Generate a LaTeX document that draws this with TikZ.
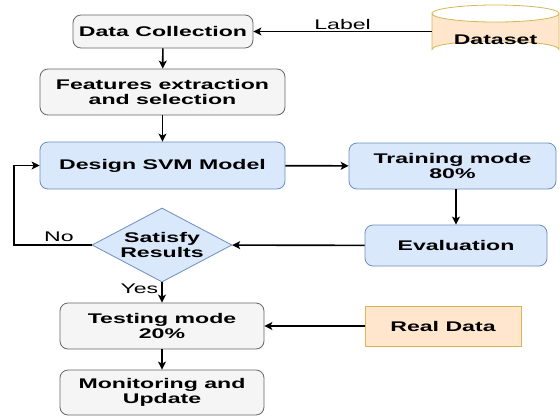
\documentclass[tikz,border=0pt]{standalone}
\usepackage{fontspec}
\setmainfont{Liberation Sans}[FakeStretch=1.65]
\usetikzlibrary{shapes.geometric,arrows.meta}
\definecolor{grayfill}{HTML}{F5F5F5}
\definecolor{grayline}{HTML}{666666}
\definecolor{bluefill}{HTML}{DAE8FC}
\definecolor{blueline}{HTML}{6C8EBF}
\definecolor{orfill}{HTML}{FFE6CC}
\definecolor{orline}{HTML}{D6B656}
\begin{document}
\begin{tikzpicture}[x=1pt,y=-1pt,
  every node/.style={font=\fontsize{14}{15.5}\selectfont\bfseries, align=center, inner sep=0pt},
  graybox/.style={draw=grayline, fill=grayfill, rounded corners=8pt, line width=0.8pt},
  bluebox/.style={draw=blueline, fill=bluefill, rounded corners=8pt, line width=0.8pt},
  orbox/.style={draw=orline, fill=orfill, line width=0.8pt},
  conn/.style={line width=1.6pt, -{Stealth[length=8pt,width=8pt,inset=2pt]}},
  lbl/.style={font=\fontsize{14}{15}\selectfont}
]
\useasboundingbox (0,0) rectangle (560,416);

\node[graybox, minimum width=180pt, minimum height=33pt] (dc) at (163,31.5) {Data Collection};
\node[graybox, minimum width=245pt, minimum height=46pt] (fe) at (162.5,92) {Features extraction\\and selection};
\node[bluebox, minimum width=245pt, minimum height=47pt] (svm) at (162.5,165.5) {Design SVM Model};
\node[bluebox, minimum width=207pt, minimum height=46pt] (tr) at (452.5,166) {Training mode\\80\%};
\node[bluebox, minimum width=182pt, minimum height=41pt] (ev) at (456,245.5) {Evaluation};
\node[diamond, draw=blueline, fill=bluefill, line width=0.8pt, minimum width=140pt, minimum height=74pt, aspect=1.9] (sr) at (162,245) {Satisfy\\Results};
\node[graybox, minimum width=204pt, minimum height=46pt] (td) at (162,326) {Testing mode\\20\%};
\node[orbox, minimum width=156pt, minimum height=40pt] (rd) at (443,326) {Real Data};
\node[graybox, minimum width=204pt, minimum height=45pt] (mu) at (162,392.5) {Monitoring and\\Update};

% dataset cylinder
\node[minimum width=127pt, minimum height=53pt] (ds) at (495.5,31.5) {};
\draw[orbox] (432,13.5) -- (432,49.5) arc[start angle=180, end angle=360, x radius=63.5, y radius=8.5] -- (559,13.5) arc[start angle=0, end angle=180, x radius=63.5, y radius=8.5] -- cycle;
\draw[orline, line width=0.8pt] (432,13.5) arc[start angle=180, end angle=360, x radius=63.5, y radius=8.5];
\node at (495.5,40) {Dataset};

% connectors
\draw[conn] (ds.west) -- node[lbl, above=1pt] {Label} (dc.east);
\draw[conn] (dc) -- (fe);
\draw[conn] (fe) -- (svm);
\draw[conn] (svm) -- (tr);
\draw[conn] (ev.north |- tr.south) -- (ev.north);
\draw[conn] (ev) -- (sr);
\coordinate (lp) at (14,245);
\draw[conn] (sr.west) -- node[lbl, above=3pt, pos=0.42] {No} (lp) |- (svm.west);
\draw[conn] (sr.south) -- node[lbl, left=3pt, pos=0.3] {Yes} (td.north);
\draw[conn] (rd) -- (td);
\draw[conn] (td) -- (mu);
\end{tikzpicture}
\end{document}
